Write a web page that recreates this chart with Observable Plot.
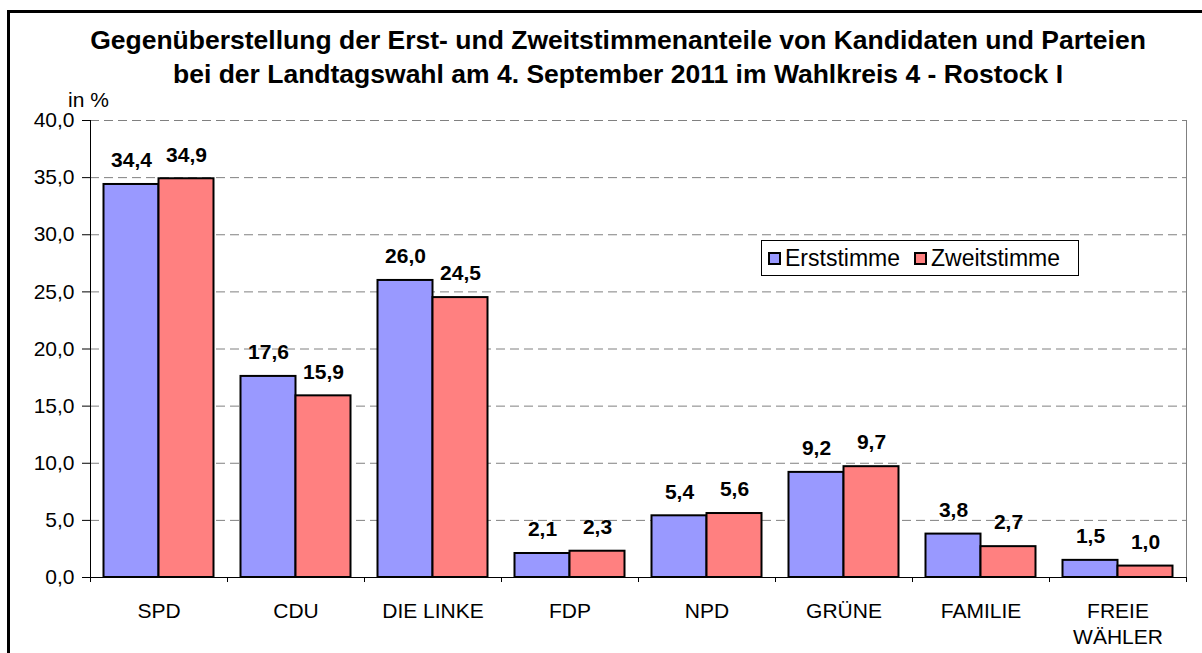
<!DOCTYPE html>
<html>
<head>
<meta charset="utf-8">
<script src="https://cdn.jsdelivr.net/npm/d3@7"></script>
<script src="https://cdn.jsdelivr.net/npm/@observablehq/plot@0.6"></script>
<style>
  html, body { margin: 0; padding: 0; background: #fff; }
  #wrap { position: relative; width: 1202px; height: 653px; overflow: hidden; font-family: "Liberation Sans", Arial, sans-serif; color: #000; }
  #border { position: absolute; left: 7px; top: 10px; width: 1400px; height: 900px; border-left: 3px solid #000; border-top: 3px solid #000; }
  #title { position: absolute; left: 18px; top: 24px; width: 1200px; text-align: center; font-weight: bold; font-size: 26.5px; line-height: 33.6px; white-space: nowrap; }
  #unit { position: absolute; left: 68px; top: 89px; font-size: 21px; line-height: 21px; }
  #chart { position: absolute; left: 0; top: 0; }
  #legend { position: absolute; left: 761px; top: 240px; width: 318px; height: 36px; box-sizing: border-box; border: 1px solid #000; background: #fff; display: flex; align-items: center; padding-left: 6px; font-size: 23px; white-space: nowrap; }
  .sw { width: 13px; height: 13px; box-sizing: border-box; border: 2px solid #000; margin-right: 4px; display: inline-block; }
  .item { display: flex; align-items: center; margin-right: 14px; }
</style>
</head>
<body>
<div id="wrap">
  <div id="border"></div>
  <div id="chart"></div>
  <div id="title">Gegenüberstellung der Erst- und Zweitstimmenanteile von Kandidaten und Parteien<br>bei der Landtagswahl am 4. September 2011 im Wahlkreis 4 - Rostock I</div>
  <div id="unit">in %</div>
  <div id="legend"></div>
</div>
<script>
const parties = ["SPD", "CDU", "DIE LINKE", "FDP", "NPD", "GRÜNE", "FAMILIE", "FREIE\nWÄHLER"];
const erststimme = [34.4, 17.6, 26.0, 2.1, 5.4, 9.2, 3.8, 1.5];
const zweitstimme = [34.9, 15.9, 24.5, 2.3, 5.6, 9.7, 2.7, 1.0];
const seriesNames = ["Erststimme", "Zweitstimme"];
const seriesColors = ["#9999FF", "#FF8080"];
const yTicks = [0, 5, 10, 15, 20, 25, 30, 35, 40];

const W = 1202, H = 653;
const mL = 90, mR = 16, mT = 120, mB = 76;
const step = (W - mL - mR) / parties.length;
const outer = 13.5;
const half = step / 2;
const labelOffset = (half - outer) / 2;

const fmt = d => d.toFixed(1).replace(".", ",");
const erstData = parties.map((p, i) => ({party: p, value: erststimme[i]}));
const zweitData = parties.map((p, i) => ({party: p, value: zweitstimme[i]}));
const first = [parties[0]];
const last = [parties[parties.length - 1]];

const chart = Plot.plot({
  width: W, height: H,
  marginLeft: mL, marginRight: mR, marginTop: mT, marginBottom: mB,
  style: {fontFamily: '"Liberation Sans", Arial, sans-serif', fontSize: "21px", color: "#000", background: "transparent"},
  x: {domain: parties, padding: 0, label: null},
  y: {domain: [0, 40], label: null},
  marks: [
    Plot.ruleY(yTicks.filter(d => d > 0), {stroke: "#808080", strokeWidth: 1, strokeDasharray: "9,5"}),
    Plot.ruleX(last, {x: d => d, dx: half, y1: 0, y2: 40, stroke: "#808080", strokeWidth: 1}),
    Plot.barY(erstData, {x: "party", y: "value", fill: seriesColors[0], stroke: "#000", strokeWidth: 2, insetLeft: outer, insetRight: half}),
    Plot.barY(zweitData, {x: "party", y: "value", fill: seriesColors[1], stroke: "#000", strokeWidth: 2, insetLeft: half, insetRight: outer}),
    Plot.ruleX(first, {x: d => d, dx: -half, y1: 0, y2: 40, stroke: "#000", strokeWidth: 1}),
    Plot.ruleY([0], {stroke: "#000", strokeWidth: 1}),
    Plot.ruleX(parties, {x: d => d, dx: -half, y1: 0, y2: -0.44, stroke: "#000", strokeWidth: 1}),
    Plot.ruleX(last, {x: d => d, dx: half, y1: 0, y2: -0.44, stroke: "#000", strokeWidth: 1}),
    Plot.text(erstData, {x: "party", y: "value", text: d => fmt(d.value), dx: -labelOffset, dy: -24, fontWeight: "bold", fontSize: 21}),
    Plot.text(zweitData, {x: "party", y: "value", text: d => fmt(d.value), dx: labelOffset, dy: -24, fontWeight: "bold", fontSize: 21}),
    Plot.axisY({ticks: yTicks, tickFormat: fmt, tickSize: 8, tickPadding: 8, fontSize: 21, label: null}),
    Plot.axisX({tickSize: 0, tickPadding: 22, fontSize: 21, lineHeight: 1.25, label: null})
  ]
});
document.getElementById("chart").appendChild(chart);

const legend = document.getElementById("legend");
seriesNames.forEach((name, i) => {
  const it = document.createElement("span");
  it.className = "item";
  const sw = document.createElement("span");
  sw.className = "sw";
  sw.style.background = seriesColors[i];
  it.appendChild(sw);
  it.appendChild(document.createTextNode(name));
  legend.appendChild(it);
});
</script>
</body>
</html>
